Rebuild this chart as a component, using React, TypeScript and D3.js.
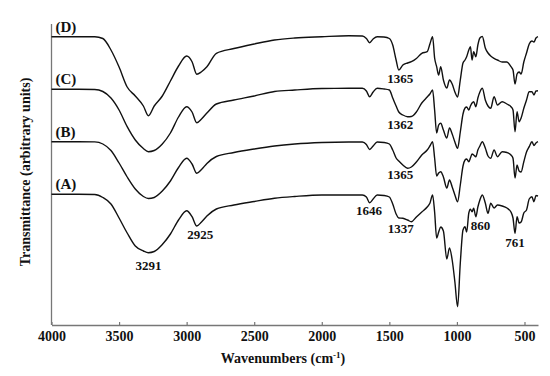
import React, { useEffect, useRef } from "react";
import * as d3 from "d3";

// wavenumber grid (cm-1), shared by all four spectra
const wavenumbers = [
  4000, 3800, 3680, 3620, 3560, 3500, 3440, 3380, 3320, 3283, 3240, 3180, 3120,
  3060, 3000, 2960, 2925, 2890, 2850, 2780, 2650, 2500, 2350, 2200, 2000, 1800,
  1700, 1670, 1646, 1620, 1590, 1540, 1500, 1475, 1450, 1430, 1400, 1365, 1337,
  1300, 1260, 1220, 1200, 1180, 1165, 1150, 1135, 1120, 1100, 1075, 1055, 1035,
  1015, 995, 975, 955, 940, 928, 912, 900, 888, 876, 860, 845, 830, 812, 790,
  770, 750, 725, 700, 665, 630, 600, 585, 570, 555, 540, 525, 505, 485, 465,
  445, 430, 415, 400,
];

// transmittance (arbitrary units, spectra stacked)
const spectrumA = [
  130.7, 130.7, 130.5, 127.5, 121, 107, 92, 79, 74, 72.3, 73.5, 80.5, 91, 105,
  114.3, 108.3, 99, 103, 109, 116, 120, 123.5, 126.7, 128.5, 130, 130, 130, 128,
  122.3, 126, 130, 129.5, 128, 121, 111, 107, 106.7, 105, 103.3, 108, 113, 118,
  121.7, 130, 113, 87, 93, 98, 94, 66, 77, 65, 43, 18.3, 62, 95, 98.3, 93, 112,
  115.7, 113.3, 116.7, 108.3, 118, 125, 130, 122, 111.7, 121.7, 117, 120, 119,
  117, 113, 107, 91.7, 108.3, 102, 103, 112, 115, 126, 128.3, 123.3, 129.5, 129,
];

const spectrumB = [
  183.3, 183.3, 183.1, 181, 174.5, 162, 148, 136, 128.5, 126.5, 127.5, 134, 144,
  157.5, 166.7, 161, 151.7, 155.5, 161.5, 168.5, 172.5, 176, 179, 181, 182.5,
  183, 183, 180.5, 175.5, 179, 183, 182.5, 181, 175, 167, 164, 160, 156.7, 158,
  163, 170, 175, 179, 183.3, 167, 149, 152, 153.3, 148, 137, 145, 138, 130,
  123.3, 140, 159, 165, 166, 163.3, 167, 171, 170, 168.3, 175, 179, 183.3, 177,
  169, 166.7, 175, 168.3, 173.3, 172.5, 170, 166.7, 147, 160, 154, 153, 163.3,
  173, 178.3, 183.3, 179.5, 182, 183.3,
];

const spectrumC = [
  235.7, 235.7, 235.5, 233.5, 227, 215, 198.3, 185, 176.5, 173.3, 174.5, 181,
  192, 208, 218.3, 213, 202.3, 206, 212, 221, 225, 229, 233.5, 235, 236.5, 236.7,
  236.7, 234, 228.3, 233, 236.7, 236, 235, 227, 219, 213, 210, 208.3, 208.5, 213,
  222, 228, 231, 235, 215, 192, 200, 201.7, 195, 187, 197, 191, 183, 176.7, 193,
  211, 217, 218, 215, 219, 222, 223.3, 218.3, 227, 233, 236.7, 225, 219, 216.7,
  228.3, 220, 223.3, 221, 218.3, 215, 193.3, 213.3, 203.3, 207, 216.7, 225,
  233.3, 233.3, 230, 234, 234.3,
];

const spectrumD = [
  288.3, 288.3, 288.3, 286.5, 275, 258, 238, 229, 219, 209.3, 219, 229, 244, 259,
  269, 263.3, 250.7, 253.3, 258.3, 271.7, 276.5, 281, 285, 287, 288.3, 289.3,
  289, 286.5, 282.3, 286, 288.3, 288, 286.5, 280, 265, 255, 260, 262, 263.3,
  266.5, 271.7, 273.3, 281, 288.3, 267, 258.3, 250, 258.3, 245, 237, 245, 241,
  233, 228, 245, 262, 265, 268.3, 275, 278.3, 265, 273.3, 268.3, 280, 287, 288.5,
  277, 272, 269, 266.7, 265, 263, 263, 258.3, 255, 241, 251, 253, 251, 263, 272,
  281, 284, 283, 287, 288.3,
];

const seriesNames = ["(A)", "(B)", "(C)", "(D)"];
const seriesValues = [spectrumA, spectrumB, spectrumC, spectrumD];
const seriesBaseline = [130.7, 183.3, 235.7, 288.3];

const xTicks = [4000, 3500, 3000, 2500, 2000, 1500, 1000, 500];

// band labels: [text, wavenumber position, transmittance position]
const bandLabels: [string, number, number][] = [
  ["3291", 3283, 57.7],
  ["2925", 2900, 89],
  ["1646", 1650, 112.7],
  ["1337", 1416, 95],
  ["860", 825, 98.3],
  ["761", 570, 80.7],
  ["1365", 1420, 245],
  ["1362", 1420, 199],
  ["1365", 1420, 149],
];

const width = 550;
const height = 376;
const serif = "'Liberation Serif', 'Times New Roman', serif";

const App = () => {
  const ref = useRef<SVGSVGElement>(null);

  useEffect(() => {
    const svg = d3.select(ref.current);
    svg.selectAll("*").remove();

    const x = d3.scaleLinear().domain([4000, 400]).range([51.5, 538]);
    const y = d3.scaleLinear().domain([0, 300]).range([325, 25]);

    // axes
    const xAxis = d3
      .axisBottom(x)
      .tickValues(xTicks)
      .tickSizeInner(-3)
      .tickSizeOuter(0)
      .tickPadding(6)
      .tickFormat((d) => String(d));

    const gx = svg.append("g").attr("transform", `translate(0,${y(0)})`).call(xAxis);
    gx.select(".domain").attr("stroke", "#777").attr("stroke-width", 1.3);
    gx.selectAll(".tick line").attr("stroke", "#777").attr("stroke-width", 1.2);
    gx.selectAll(".tick text")
      .attr("font-family", serif)
      .attr("font-weight", "bold")
      .attr("font-size", 14)
      .attr("fill", "#111");

    svg
      .append("line")
      .attr("x1", x(4000))
      .attr("x2", x(4000))
      .attr("y1", y(0))
      .attr("y2", y(301))
      .attr("stroke", "#777")
      .attr("stroke-width", 1.3);

    // spectra
    const line = d3
      .line<number>()
      .x((d, i) => x(wavenumbers[i]))
      .y((d) => y(d))
      .curve(d3.curveMonotoneX);

    seriesValues.forEach((vals, k) => {
      svg
        .append("path")
        .attr("d", line(vals))
        .attr("fill", "none")
        .attr("stroke", "#111")
        .attr("stroke-width", 1.4)
        .attr("stroke-linejoin", "round");

      svg
        .append("text")
        .attr("x", x(4000) + 4)
        .attr("y", y(seriesBaseline[k]) - 5)
        .attr("font-family", serif)
        .attr("font-weight", "bold")
        .attr("font-size", 15)
        .attr("fill", "#111")
        .text(seriesNames[k]);
    });

    // band labels
    svg
      .selectAll("text.band")
      .data(bandLabels)
      .enter()
      .append("text")
      .attr("class", "band")
      .attr("x", (d) => x(d[1]))
      .attr("y", (d) => y(d[2]))
      .attr("text-anchor", "middle")
      .attr("dominant-baseline", "middle")
      .attr("font-family", serif)
      .attr("font-weight", "bold")
      .attr("font-size", 13)
      .attr("fill", "#111")
      .text((d) => d[0]);

    // axis titles
    const xt = svg
      .append("text")
      .attr("x", 283)
      .attr("y", 363)
      .attr("text-anchor", "middle")
      .attr("font-family", serif)
      .attr("font-weight", "bold")
      .attr("font-size", 14)
      .attr("fill", "#111");
    xt.append("tspan").text("Wavenumbers  (cm");
    xt.append("tspan").attr("dy", -5).attr("font-size", 9).text("-1");
    xt.append("tspan").attr("dy", 5).text(")");

    svg
      .append("text")
      .attr("transform", "translate(30,172) rotate(-90)")
      .attr("text-anchor", "middle")
      .attr("font-family", serif)
      .attr("font-weight", "bold")
      .attr("font-size", 14)
      .attr("fill", "#111")
      .text("Transmittance (arbitrary units)");
  }, []);

  return (
    <svg
      ref={ref}
      width={width}
      height={height}
      style={{ position: "absolute", left: 0, top: 0, background: "#fff" }}
    />
  );
};

export default App;
